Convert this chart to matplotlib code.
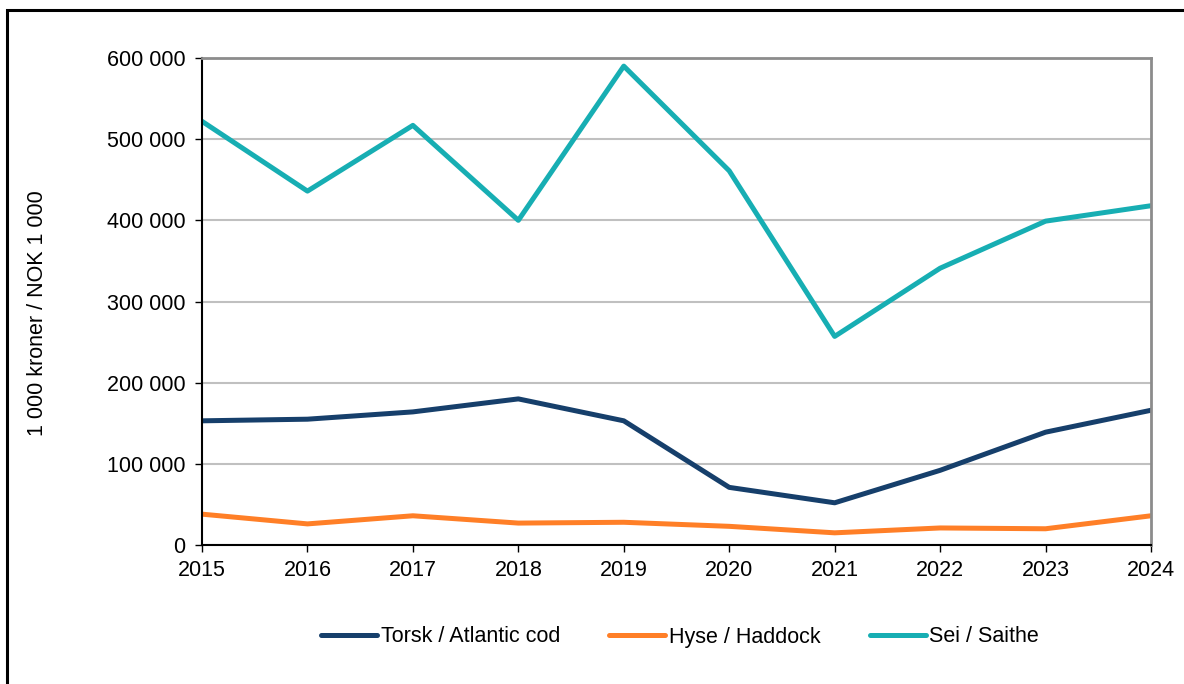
import numpy as np
import matplotlib.pyplot as plt
from matplotlib.patches import Rectangle
from matplotlib.ticker import FuncFormatter

plt.rcParams['font.family'] = ['Liberation Sans', 'DejaVu Sans']

years = [2015, 2016, 2017, 2018, 2019, 2020, 2021, 2022, 2023, 2024]
torsk = [153000, 155000, 164000, 180000, 153000, 71000, 52000, 92000, 139000, 166000]
hyse = [38000, 26000, 36000, 27000, 28000, 23000, 15000, 21000, 20000, 36000]
sei = [522000, 436000, 517000, 400000, 590000, 461000, 257000, 341000, 399000, 418000]

fig = plt.figure(figsize=(11.84, 6.84), dpi=100)
ax = fig.add_axes([202 / 1184, 1 - 545 / 684, (1151 - 202) / 1184, (545 - 58) / 684])

# outer frame (cut at right and bottom like the original)
fig.patches.append(Rectangle((7 / 1184, -0.1), 1.2, 1 - 10 / 684 + 0.1, transform=fig.transFigure,
                             fill=False, edgecolor='black', linewidth=2.2))

ax.plot(years, torsk, color='#163f6b', linewidth=3.6, label='Torsk / Atlantic cod', solid_capstyle='round')
ax.plot(years, hyse, color='#ff7f27', linewidth=3.6, label='Hyse / Haddock', solid_capstyle='round')
ax.plot(years, sei, color='#17aeb3', linewidth=3.6, label='Sei / Saithe', solid_capstyle='round')

ax.set_xlim(2015, 2024)
ax.set_ylim(0, 600000)
ax.set_xticks(years)
ax.set_yticks(np.arange(0, 600001, 100000))
ax.yaxis.set_major_formatter(FuncFormatter(lambda v, p: f"{int(v):,}".replace(",", " ")))
ax.grid(axis='y', color='#c0c0c0', linewidth=1.5)
ax.set_axisbelow(True)

for s in ['top', 'right']:
    ax.spines[s].set_color('#8c8c8c')
    ax.spines[s].set_linewidth(2)
for s in ['left', 'bottom']:
    ax.spines[s].set_color('black')
    ax.spines[s].set_linewidth(1.5)

ax.tick_params(axis='both', direction='out', length=5, width=1, labelsize=15.5, colors='black')
ax.tick_params(axis='x', pad=6)
ax.tick_params(axis='y', pad=7)

fig.text(38 / 1184, 1 - 313 / 684, '1 000 kroner / NOK 1 000', rotation=90, fontsize=15.5,
         ha='center', va='center')

fig.legend(loc='center', bbox_to_anchor=(680 / 1184, 1 - 637 / 684), ncol=3, frameon=False,
           fontsize=15.5, handlelength=2.6, handletextpad=0.15, columnspacing=2.3)

fig.savefig('out.png', dpi=100)
